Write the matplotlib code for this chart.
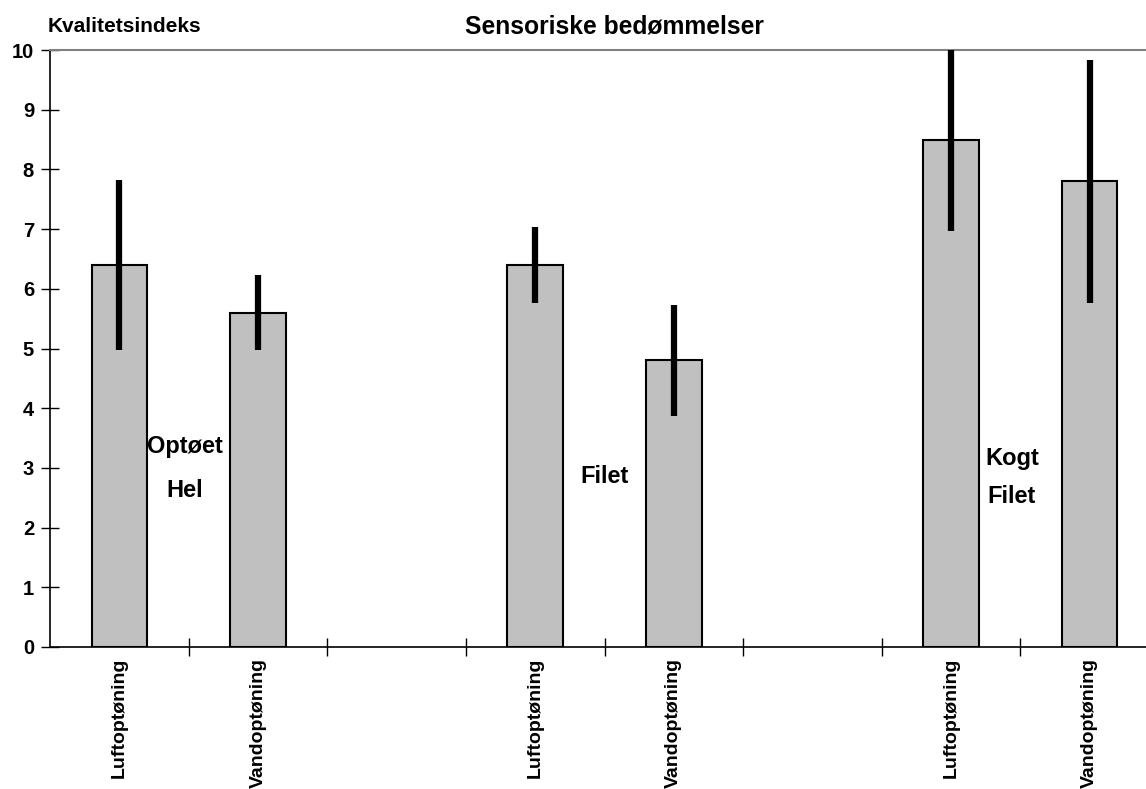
import numpy as np
import matplotlib
matplotlib.use("Agg")
import matplotlib.pyplot as plt

plt.rcParams["font.family"] = ["Liberation Sans", "DejaVu Sans"]
plt.rcParams["font.weight"] = "bold"

# 8 slots on the x axis, two of them left empty between the groups
slot_labels = ["Luftoptøning", "Vandoptøning", "", "Luftoptøning", "Vandoptøning", "",
               "Luftoptøning", "Vandoptøning"]
bar_slots = [0, 1, 3, 4, 6, 7]
values = [6.4, 5.6, 6.4, 4.8, 8.5, 7.8]
errors = [1.43, 0.63, 0.63, 0.93, 1.53, 2.03]

# group labels: (text, x in slot units, y)
group_labels = [("Optøet\nHel", 0.97, 2.99), ("Filet", 4.0, 2.85), ("Kogt\nFilet", 6.94, 2.84)]
label_spacing = [2.15, 1.0, 1.85]

fig = plt.figure(figsize=(11.46, 7.89), dpi=100)
ax = fig.add_axes([50 / 1146, 142 / 789, 1109 / 1146, 597 / 789])

x = np.array(bar_slots) + 0.5
ax.bar(x, values, width=0.4, color="#c0c0c0", edgecolor="black", linewidth=1.5, zorder=2)
ax.errorbar(x, values, yerr=errors, fmt="none", ecolor="black", elinewidth=4.5,
            capsize=0, zorder=3)

for (txt, xp, yp), ls in zip(group_labels, label_spacing):
    ax.text(xp, yp, txt, ha="center", va="center", fontsize=17, fontweight="bold",
            linespacing=ls, zorder=4)

ax.set_xlim(0, len(slot_labels))
ax.set_ylim(0, 10)
ax.set_yticks(range(0, 11))
ax.set_yticklabels([str(i) for i in range(0, 11)], fontsize=14.5, fontweight="bold")

ax.set_xticks([i + 0.5 for i in range(len(slot_labels))])
ax.set_xticklabels(slot_labels, rotation=90, fontsize=14, fontweight="bold", va="top")
ax.set_xticks(range(1, len(slot_labels)), minor=True)
ax.tick_params(axis="x", which="major", length=0, pad=8)
ax.tick_params(axis="x", which="minor", direction="inout", length=13, width=1)
ax.tick_params(axis="y", direction="inout", length=13, width=1, pad=5)

ax.spines["top"].set_color("#808080")
ax.spines["top"].set_linewidth(1.5)
ax.spines["right"].set_visible(False)
ax.spines["left"].set_linewidth(1.2)
ax.spines["bottom"].set_linewidth(1.2)

fig.text(48 / 1146, 1 - 27 / 789, "Kvalitetsindeks", ha="left", va="center",
         fontsize=15, fontweight="bold")
fig.text(614 / 1146, 1 - 27 / 789, "Sensoriske bedømmelser", ha="center", va="center",
         fontsize=17.7, fontweight="bold")

fig.savefig("out.png", dpi=100)
